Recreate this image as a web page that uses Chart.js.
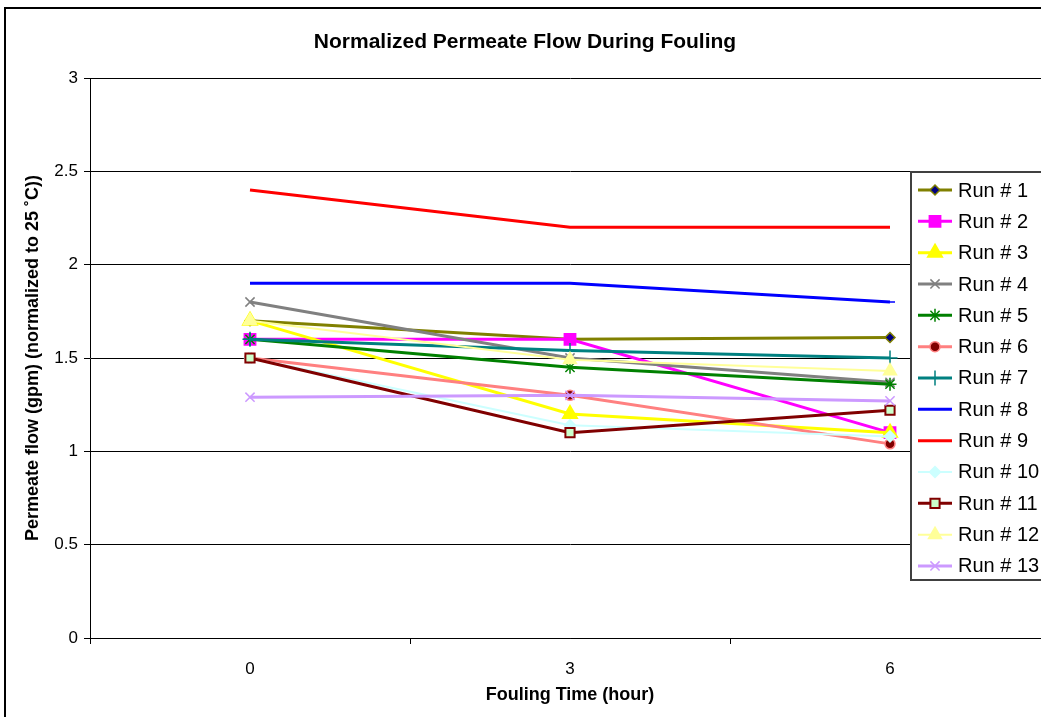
<!DOCTYPE html>
<html>
<head>
<meta charset="utf-8">
<script src="https://cdn.jsdelivr.net/npm/chart.js@4"></script>
<style>
  html, body { margin: 0; padding: 0; background: #fff; width: 1041px; height: 717px; overflow: hidden; }
  #wrap { position: absolute; left: 0; top: 0; width: 1070px; height: 730px; }
</style>
</head>
<body>
<div id="wrap"><canvas id="chart"></canvas></div>
<script>
// data
const hours = ['0', '3', '6'];
const run1 = [1.7, 1.6, 1.61];
const run2 = [1.6, 1.6, 1.1];
const run3 = [1.7, 1.2, 1.1];
const run4 = [1.8, 1.5, 1.37];
const run5 = [1.6, 1.45, 1.36];
const run6 = [1.5, 1.3, 1.04];
const run7 = [1.6, 1.54, 1.5];
const run8 = [1.9, 1.9, 1.8];
const run9 = [2.4, 2.2, 2.2];
const run10 = [1.5, 1.14, 1.08];
const run11 = [1.5, 1.1, 1.22];
const run12 = [1.7, 1.49, 1.43];
const run13 = [1.29, 1.3, 1.27];
const runs = [run1, run2, run3, run4, run5, run6, run7, run8, run9, run10, run11, run12, run13];
const runLabels = runs.map((_, i) => `Run # ${i + 1}`);

// styles (Excel palette)
const lineColors = ['#808000', '#FF00FF', '#FFFF00', '#808080', '#008000', '#FF8080', '#008080',
                    '#0000FF', '#FF0000', '#CCFFFF', '#800000', '#FFFF99', '#CC99FF'];
const markerFills = ['#000080', '#FF00FF', '#FFFF00', '#808080', '#008000', '#800000', '#008080',
                     '#0000FF', '#FF0000', '#CCFFFF', '#CCFFCC', '#FFFF99', '#CC99FF'];
const markerEdges = ['#808000', '#FF00FF', '#FFFF00', '#808080', '#008000', '#FF8080', '#008080',
                     '#0000FF', '#FF0000', '#CCFFFF', '#800000', '#FFFF99', '#CC99FF'];
const markerStyles = ['rectRot', 'rect', 'triangle', 'crossRot', 'star', 'circle', 'cross',
                      'dash', false, 'rectRot', 'rect', 'triangle', 'crossRot'];
const markerSizes = [5, 8, 8.5, 6.5, 6.5, 5, 7.5, 5, 0, 5.5, 6.5, 7.5, 6.5];
const lineWidths = [3, 3, 3, 3, 3, 3, 3, 3, 3, 2, 3, 2, 3];

const FONT = '"Liberation Sans", Arial, sans-serif';

const datasets = runs.map((vals, i) => ({
  label: runLabels[i],
  data: vals,
  borderColor: lineColors[i],
  borderWidth: lineWidths[i],
  pointStyle: markerStyles[i],
  pointRadius: markerSizes[i],
  pointBackgroundColor: markerFills[i],
  pointBorderColor: markerEdges[i],
  pointBorderWidth: i === 10 ? 2 : 1.5,
  tension: 0,
  fill: false,
  order: runs.length - i
}));

// legend box + outer frame
const frameAndLegend = {
  id: 'frameAndLegend',
  beforeDraw(chart) {
    const ctx = chart.ctx;
    ctx.save();
    ctx.fillStyle = '#fff';
    ctx.fillRect(0, 0, chart.width, chart.height);
    ctx.restore();
  },
  afterDraw(chart) {
    const ctx = chart.ctx;
    ctx.save();
    // legend
    const lx = 911, ly = 172, lw = 200, lh = 408;
    ctx.fillStyle = '#fff';
    ctx.fillRect(lx, ly, lw, lh);
    ctx.strokeStyle = '#404040';
    ctx.lineWidth = 2;
    ctx.strokeRect(lx, ly, lw, lh);
    chart.data.datasets.forEach((ds, i) => {
      const cy = 190 + i * 31.33;
      ctx.strokeStyle = ds.borderColor;
      ctx.lineWidth = ds.borderWidth;
      ctx.beginPath();
      ctx.moveTo(918, cy);
      ctx.lineTo(952, cy);
      ctx.stroke();
      if (ds.pointStyle && ds.pointRadius > 0) {
        ctx.fillStyle = ds.pointBackgroundColor;
        ctx.strokeStyle = ds.pointBorderColor;
        ctx.lineWidth = ds.pointBorderWidth;
        Chart.helpers.drawPoint(ctx, {
          pointStyle: ds.pointStyle, rotation: 0,
          radius: ds.pointRadius, borderWidth: ds.pointBorderWidth
        }, 935, cy);
      }
      ctx.fillStyle = '#000';
      ctx.font = `20px ${FONT}`;
      ctx.textBaseline = 'middle';
      ctx.textAlign = 'left';
      ctx.fillText(ds.label, 958, cy + 1);
    });
    // outer frame
    ctx.strokeStyle = '#000';
    ctx.lineWidth = 2;
    ctx.strokeRect(5, 8, 1200, 900);
    ctx.restore();
  }
};

new Chart(document.getElementById('chart'), {
  type: 'line',
  data: { labels: hours, datasets },
  plugins: [frameAndLegend],
  options: {
    responsive: true,
    maintainAspectRatio: false,
    animation: false,
    layout: { padding: { left: 0, top: 0, right: 20, bottom: 0 } },
    plugins: {
      legend: { display: false },
      tooltip: { enabled: false },
      title: {
        display: true,
        text: 'Normalized Permeate Flow During Fouling',
        color: '#000',
        font: { family: FONT, size: 21, weight: 'bold' },
        padding: { top: 29.4, bottom: 23.4 }
      }
    },
    scales: {
      x: {
        type: 'category',
        offset: true,
        afterFit: s => { s.height = 92; },
        grid: { drawOnChartArea: false, drawTicks: true, tickLength: 6, offset: true, color: '#000' },
        border: { display: true, color: '#000', width: 1 },
        ticks: { color: '#000', font: { family: FONT, size: 17 }, padding: 15 },
        title: {
          display: true,
          text: 'Fouling Time (hour)',
          color: '#000',
          font: { family: FONT, size: 18, weight: 'bold' },
          padding: { top: 0, bottom: 24 }
        }
      },
      y: {
        min: 0,
        max: 3,
        afterFit: s => { s.width = 90; },
        grid: { color: '#000', lineWidth: 1, drawTicks: true, tickLength: 6 },
        border: { display: true, color: '#000', width: 1 },
        ticks: {
          stepSize: 0.5,
          color: '#000',
          font: { family: FONT, size: 17 },
          padding: 6,
          callback: v => String(v)
        },
        title: {
          display: true,
          text: 'Permeate flow (gpm) (normalized to 25 ˚C))',
          color: '#000',
          font: { family: FONT, size: 18, weight: 'bold' },
          padding: { top: 22, bottom: 0 }
        }
      }
    }
  }
});
</script>
</body>
</html>
